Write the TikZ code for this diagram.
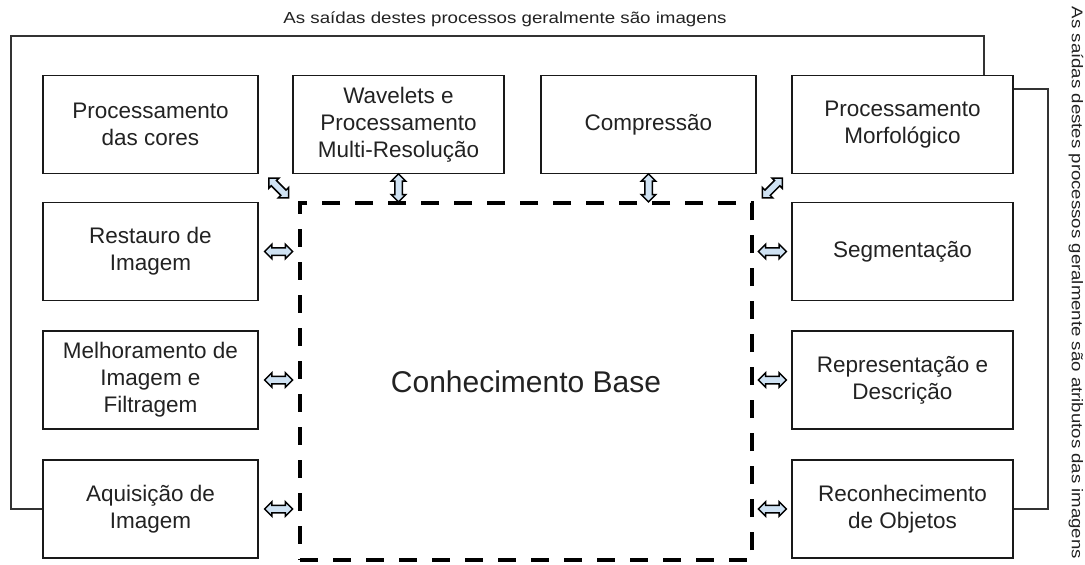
\documentclass[tikz,border=0pt]{standalone}
\usepackage{fontspec}
\setmainfont{Liberation Sans}
\usetikzlibrary{shapes.arrows,calc}
\definecolor{arrowfill}{HTML}{CFE2F3}
\definecolor{txt}{HTML}{222222}
\begin{document}
\begin{tikzpicture}[x=1pt,y=-1pt,
  box/.style={draw=black!90, line width=1.8pt, minimum height=98pt, align=center, inner sep=0pt, font=\fontsize{22.5}{27}\selectfont, text=txt},
  dbl/.style={double arrow, draw=black, line width=1.5pt, fill=arrowfill, minimum height=28pt, double arrow head extend=3.5pt, inner sep=0pt},
  fb/.style={draw=black!80, line width=1.2pt},
  kbox/.style={draw=black, line width=3.2pt, dash pattern=on 18pt off 15pt, minimum width=452pt, minimum height=357pt, inner sep=0pt, font=\fontsize{30}{36}\selectfont, text=txt},
  lab/.style={text=txt, inner sep=0pt}
]
\newcommand{\shaft}{\rule{0pt}{6pt}}
\useasboundingbox (0,0) rectangle (1085,565);
% left column
\node[box, minimum width=215pt] (pc) at (150.5,124.5) {Processamento\\das cores};
\node[box, minimum width=215pt] (rest) at (150.5,251.5) {Restauro de\\Imagem};
\node[box, minimum width=215pt] (mel) at (150.5,380) {Melhoramento de\\Imagem e\\Filtragem};
\node[box, minimum width=215pt] (aq) at (150.5,509) {Aquisição de\\Imagem};
% top row
\node[box, minimum width=211pt] (wav) at (398.5,124.5) {Wavelets e\\Processamento\\Multi-Resolução};
\node[box, minimum width=215pt] (comp) at (648.5,124.5) {Compressão};
% right column
\node[box, minimum width=221pt] (morph) at (902.5,124.5) {Processamento\\Morfológico};
\node[box, minimum width=221pt] (seg) at (902.5,251.5) {Segmentação};
\node[box, minimum width=221pt] (rep) at (902.5,380) {Representação e\\Descrição};
\node[box, minimum width=221pt] (rec) at (902.5,509) {Reconhecimento\\de Objetos};
% knowledge base
\node[kbox] (kb) at (526,381.5) {Conhecimento Base};
% double arrows
\node[dbl] (a1) at ($(rest.east)!0.5!(kb.west |- rest.east)$) {\shaft};
\node[dbl] (a2) at ($(mel.east)!0.5!(kb.west |- mel.east)$) {\shaft};
\node[dbl] (a3) at ($(aq.east)!0.5!(kb.west |- aq.east)$) {\shaft};
\node[dbl] (a4) at ($(seg.west)!0.5!(kb.east |- seg.west)$) {\shaft};
\node[dbl] (a5) at ($(rep.west)!0.5!(kb.east |- rep.west)$) {\shaft};
\node[dbl] (a6) at ($(rec.west)!0.5!(kb.east |- rec.west)$) {\shaft};
\node[dbl, rotate=90] (a7) at ($(wav.south)!0.5!(kb.north -| wav.south)$) {\shaft};
\node[dbl, rotate=90] (a8) at ($(comp.south)!0.5!(kb.north -| comp.south)$) {\shaft};
\node[dbl, rotate=-45] (a9) at ($(pc.south east)!0.5!(kb.north west)$) {\shaft};
\node[dbl, rotate=45] (a10) at ($(morph.south west)!0.5!(kb.north east)$) {\shaft};
% feedback lines
\coordinate (c1) at (11,36);
\coordinate (c2) at (984,36);
\coordinate (c3) at (1048,89);
\draw[fb] (aq.west) -| (c1) -- (c2) -- (c2 |- morph.north);
\draw[fb] (morph.east |- c3) -- (c3) |- (rec.east);
% labels
\node[lab, anchor=base, font=\fontsize{16}{19}\selectfont] (toplab) at (505,23.5) {\scalebox{1.17}[1]{As saídas destes processos geralmente são imagens}};
\node[lab, rotate=-90, font=\fontsize{15.5}{19}\selectfont] (rightlab) at (1076,283) {\scalebox{1.2}[1]{As saídas destes processos geralmente são atributos das imagens}};
\end{tikzpicture}
\end{document}
